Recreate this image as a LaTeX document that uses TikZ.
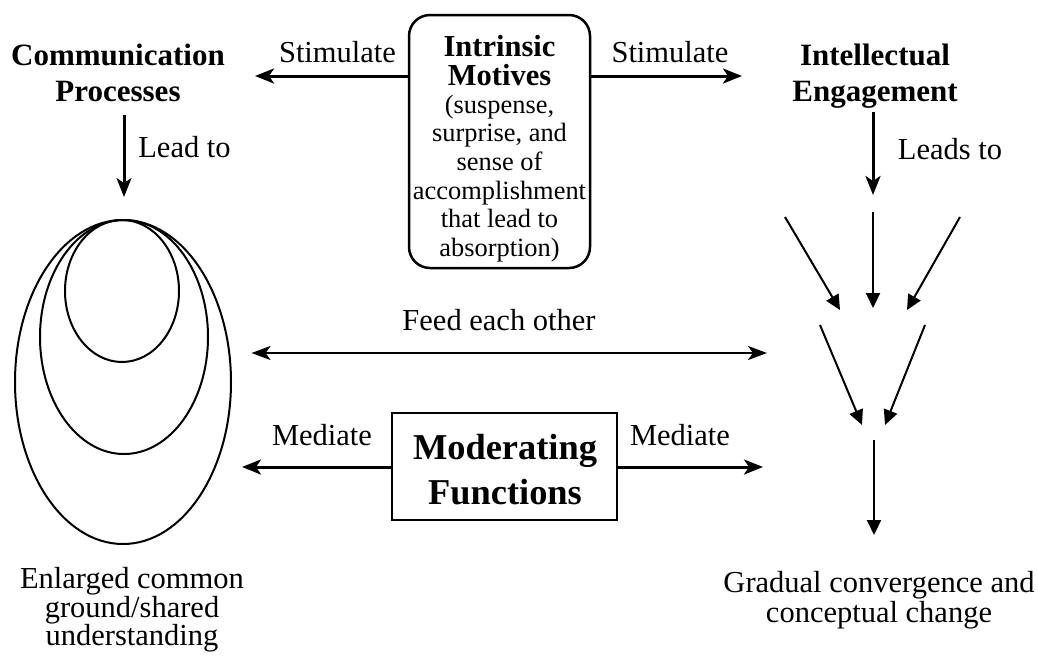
\documentclass[tikz,border=0pt]{standalone}
\usepackage{fontspec}
\setmainfont{Liberation Serif}
\usetikzlibrary{arrows.meta,shapes.geometric}
\tikzset{
  lbl/.style={inner sep=0pt, align=center, font=\fontsize{30.5}{29}\selectfont},
  head/.style={inner sep=0pt, align=center, font=\fontsize{31}{36}\selectfont\bfseries},
  bigarrow/.style={line width=3pt, -{Stealth[length=19pt,width=15pt,inset=5pt]}},
  feedarrow/.style={line width=2.5pt, {Stealth[length=19pt,width=14pt,inset=5pt]}-{Stealth[length=19pt,width=14pt,inset=5pt]}},
  funarrow/.style={line width=2pt, -{Triangle[length=15pt,width=14pt]}},
  oval/.style={ellipse, draw, line width=2pt, inner sep=0pt},
  imbox/.style={draw, line width=2.5pt, rounded corners=21pt, minimum width=181pt, minimum height=253pt, inner sep=0pt},
  mfbox/.style={draw, line width=2.5pt, minimum width=225pt, minimum height=107pt, inner sep=0pt}
}
\begin{document}
\begin{tikzpicture}[x=1pt,y=-1pt]
\useasboundingbox (0,0) rectangle (1038,657);
% boxes
\node[imbox] (im) at (499.5,141.5) {};
\node[inner sep=0pt, align=center, font=\fontsize{30.5}{29}\selectfont\bfseries] (imtitle) at (499.5,61) {Intrinsic\\Motives};
\node[inner sep=0pt, align=center, font=\fontsize{26.4}{28.6}\selectfont] (imsub) at (499.5,178.5) {(suspense,\\surprise, and\\sense of\\accomplishment\\that lead to\\absorption)};
\node[mfbox] (mf) at (504.5,466.5) {};
\node[inner sep=0pt, align=center, font=\fontsize{36.4}{45}\selectfont\bfseries] (mftext) at (505,470) {Moderating\\Functions};
% headings
\node[head] (cp) at (118,73) {Communication\\Processes};
\node[head] (ie) at (875,76) {Intellectual\\Engagement};
% labels
\node[lbl] (stimL) at (337.5,52.5) {Stimulate};
\node[lbl] (stimR) at (670,52.5) {Stimulate};
\node[lbl] (leadto) at (184.5,147.5) {Lead to};
\node[lbl] (leadsto) at (950,149) {Leads to};
\node[lbl] (feed) at (499,320) {Feed each other};
\node[lbl] (medL) at (322,435) {Mediate};
\node[lbl] (medR) at (680,435) {Mediate};
\node[lbl, font=\fontsize{30.5}{28.5}\selectfont] (ecg) at (132,610) {Enlarged common\\ground/shared\\understanding};
\node[lbl, font=\fontsize{30.5}{30.5}\selectfont] (gcc) at (879,600) {Gradual convergence and\\conceptual change};
% ellipses
\node[oval, minimum width=216pt, minimum height=324pt] (outer) at (123,382) {};
\node[oval, minimum width=168pt, minimum height=234pt] (middle) at (124,337) {};
\node[oval, minimum width=114pt, minimum height=142pt] (inner) at (122,291) {};
% coordinates
\coordinate (sL) at (255,76);
\coordinate (sR) at (742,76);
\coordinate (ltS) at (124,115);
\coordinate (ltE) at (124,197);
\coordinate (lsS) at (873,112);
\coordinate (lsE) at (873,195);
\coordinate (fL) at (251.5,353);
\coordinate (fR) at (767,353);
\coordinate (mL) at (242,467);
\coordinate (mR) at (763,467);
\coordinate (a1s) at (785,217); \coordinate (a1e) at (840,310);
\coordinate (a2s) at (873,212); \coordinate (a2e) at (873,308);
\coordinate (a3s) at (960,217); \coordinate (a3e) at (907,310);
\coordinate (b1s) at (820,325); \coordinate (b1e) at (862,425);
\coordinate (b2s) at (925,325); \coordinate (b2e) at (885,425);
\coordinate (cS) at (874,440); \coordinate (cE) at (874,535);
% connectors
\draw[bigarrow] (im.west |- sL) -- (sL);
\draw[bigarrow] (im.east |- sR) -- (sR);
\draw[bigarrow] (ltS) -- (ltE);
\draw[bigarrow] (lsS) -- (lsE);
\draw[feedarrow] (fL) -- (fR);
\draw[bigarrow] (mf.west |- mL) -- (mL);
\draw[bigarrow] (mf.east |- mR) -- (mR);
\draw[funarrow] (a1s) -- (a1e);
\draw[funarrow] (a2s) -- (a2e);
\draw[funarrow] (a3s) -- (a3e);
\draw[funarrow] (b1s) -- (b1e);
\draw[funarrow] (b2s) -- (b2e);
\draw[funarrow] (cS) -- (cE);
\end{tikzpicture}
\end{document}
